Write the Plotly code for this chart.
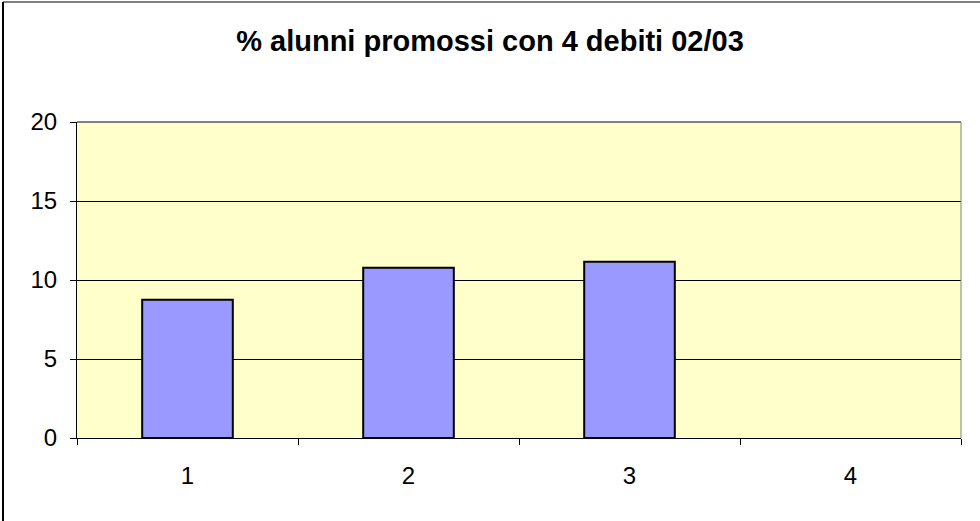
import plotly.graph_objects as go

categories = ["1", "2", "3", "4"]
values = [8.75, 10.78, 11.16, 0]
y_ticks = [0, 5, 10, 15, 20]
title_text = "% alunni promossi con 4 debiti 02/03"

L, R, T, B = 77, 19, 122, 83
PW = 980 - L - R
PH = 521 - T - B

fig = go.Figure()
fig.add_trace(go.Bar(
    x=categories, y=values,
    marker=dict(color="#9999FF", line=dict(color="#000000", width=[2 if v > 0 else 0 for v in values])),
    width=0.41,
))

fig.update_layout(
    width=980, height=521,
    margin=dict(l=L, r=R, t=T, b=B, autoexpand=False),
    paper_bgcolor="white",
    plot_bgcolor="#FFFFCC",
    showlegend=False,
    title=dict(text="<b>" + title_text + "</b>", x=0.5, xref="container", xanchor="center",
               y=1 - 41 / 521, yref="container", yanchor="middle",
               font=dict(family="Liberation Sans, Arial", size=29, color="#000000")),
    font=dict(family="Liberation Sans, Arial", size=24, color="#000000"),
    xaxis=dict(type="category", showgrid=False, showline=True, linecolor="#000000", linewidth=1,
               ticks="outside", tickson="boundaries", ticklen=6, tickcolor="#000000",
               tickfont=dict(size=24), ticklabelstandoff=16),
    yaxis=dict(range=[0, 20], tickvals=y_ticks, showgrid=True, gridcolor="#000000", gridwidth=1,
               showline=True, linecolor="#000000", linewidth=1, ticks="outside", ticklen=6,
               tickcolor="#000000", tickfont=dict(size=24), zeroline=False, ticklabelstandoff=8),
)

# plot area right/top edge
fig.add_shape(type="line", xref="x domain", yref="y domain", x0=1, x1=1, y0=0, y1=1,
              line=dict(color="#808080", width=1))
fig.add_shape(type="line", xref="x domain", yref="y domain", x0=0, x1=1, y0=1, y1=1,
              line=dict(color="#808080", width=2))

# outer chart border (top and left visible)
bx = (3 - L) / PW
by = 1 + (T - 2) / PH
fig.add_shape(type="line", xref="paper", yref="paper",
              x0=bx, x1=1 + 40 / PW, y0=by, y1=by,
              line=dict(color="#808080", width=2))
fig.add_shape(type="line", xref="paper", yref="paper",
              x0=bx, x1=bx, y0=-0.5, y1=by,
              line=dict(color="#000000", width=2))

fig.write_html("out.html", config={"displayModeBar": False},
               post_script="document.body.style.margin='0';")
